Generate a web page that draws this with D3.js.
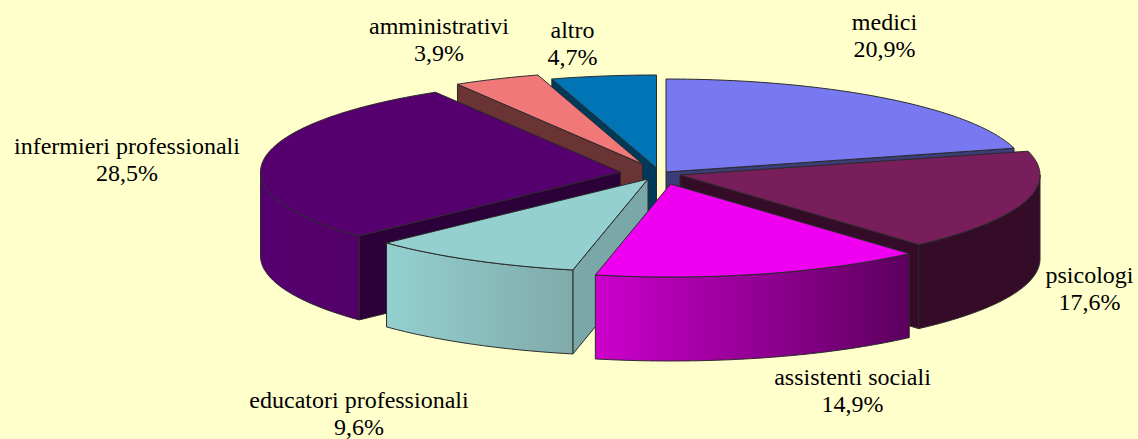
<!DOCTYPE html>
<html>
<head>
<meta charset="utf-8">
<script src="https://cdn.jsdelivr.net/npm/d3@7"></script>
<style>
  html, body { margin: 0; padding: 0; background: #ffffcc; }
  svg { display: block; }
  text { font-family: "Liberation Serif", serif; font-size: 24px; fill: #000; }
</style>
</head>
<body>
<div id="chart"></div>
<script>
// data, clockwise from 12 o'clock
var categories = ['medici', 'psicologi', 'assistenti sociali', 'educatori professionali', 'infermieri professionali', 'amministrativi', 'altro'];
var values = [20.9, 17.6, 14.9, 9.6, 28.5, 3.9, 4.7];

// colours for each wedge
var topColors = ['#7878f0', '#781e5a', '#f000f0', '#94d0d0', '#560070', '#f07878', '#0074b4'];
var sideColors = ['#3c3c78', '#340c28', '#78007a', '#7aa8a8', '#2c0038', '#6a3434', '#003a5a'];
var wallFrom = ['#7878f0', '#340c28', '#cc00cc', '#94d0d0', '#560070', '#f07878', '#0074b4'];
var wallTo = ['#3c3c78', '#340c28', '#5c005e', '#80aaaa', '#520068', '#6a3434', '#003a5a'];

// how far each wedge is pulled out of the centre, in pixels
var pullX = [14, 28, 18.5, -4, -31.5, -9.5, 4.5];
var pullY = [0, 3, 12, 7, 0, -8, -4];

// back to front
var drawOrder = [6, 5, 0, 4, 1, 3, 2];

// label centres, first line baseline
var labelX = [884.5, 1089.5, 852.5, 359, 127, 439, 572.5];
var labelY = [30, 283, 385, 408, 154, 34, 38];

var width = 1138, height = 439;
var cx = 652, cy = 172, rx = 360, ry = 93, depth = 84;

var ex = d3.scaleLinear().domain([-1, 1]).range([-rx, rx]);
var ey = d3.scaleLinear().domain([-1, 1]).range([-ry, ry]);
var pct = d3.formatLocale({ decimal: ',', thousands: '.', grouping: [3], currency: ['', ''] }).format('.1f');

// the printed percentages add up to 100,1 so let the last wedge stop at the top
var total = d3.sum(values);
var pie = d3.pie().sort(null).endAngle(2 * Math.PI * total / 100).value(function(d) { return d.value; });
var slices = pie(values.map(function(v, i) { return { value: v, i: i }; }));

var line = d3.line();

function rim(a, ox, oy) {
  return [ox + ex(Math.sin(a)), oy - ey(Math.cos(a))];
}

function arcPoints(a0, a1, ox, oy) {
  var n = Math.max(2, Math.ceil(Math.abs(a1 - a0) / 0.01));
  return d3.range(n + 1).map(function(k) {
    return rim(a0 + (a1 - a0) * k / n, ox, oy);
  });
}

var svg = d3.select('#chart').append('svg')
  .attr('width', width)
  .attr('height', height);

svg.append('rect')
  .attr('width', width)
  .attr('height', height)
  .attr('fill', '#ffffcc');

var defs = svg.append('defs');
values.forEach(function(v, i) {
  var g = defs.append('linearGradient').attr('id', 'wall' + i);
  g.append('stop').attr('offset', '0%').attr('stop-color', wallFrom[i]);
  g.append('stop').attr('offset', '100%').attr('stop-color', wallTo[i]);
});

var wedges = svg.selectAll('g.wedge')
  .data(drawOrder.map(function(i) { return slices[i]; }))
  .enter().append('g')
    .attr('class', 'wedge')
    .attr('stroke', '#2a2a2a')
    .attr('stroke-width', 1)
    .attr('stroke-linejoin', 'round');

wedges.each(function(d) {
  var g = d3.select(this);
  var i = d.data.i;
  var ox = cx + pullX[i], oy = cy + pullY[i];
  var apex = [ox, oy];
  var a0 = d.startAngle, a1 = Math.min(d.endAngle, 2 * Math.PI);

  // radial walls, only where they face the viewer
  [a0, a1].forEach(function(a, k) {
    var faces = k === 0 ? Math.sin(a) < -1e-6 : Math.sin(a) > 1e-6;
    if (!faces) return;
    var p = rim(a, ox, oy);
    g.append('path')
      .attr('d', line([apex, p, [p[0], p[1] + depth], [ox, oy + depth]]) + 'Z')
      .attr('fill', sideColors[i]);
  });

  // outer wall, the front half of the ellipse only
  var w0 = Math.max(a0, Math.PI / 2), w1 = Math.min(a1, Math.PI * 1.5);
  if (w1 > w0) {
    var upper = arcPoints(w0, w1, ox, oy);
    var lower = arcPoints(w1, w0, ox, oy + depth);
    g.append('path')
      .attr('d', line(upper.concat(lower)) + 'Z')
      .attr('fill', 'url(#wall' + i + ')');
  }

  // top face
  g.append('path')
    .attr('d', line([apex].concat(arcPoints(a0, a1, ox, oy))) + 'Z')
    .attr('fill', topColors[i]);
});

var labels = svg.selectAll('text.label')
  .data(categories)
  .enter().append('text')
    .attr('class', 'label')
    .attr('text-anchor', 'middle')
    .attr('x', function(d, i) { return labelX[i]; })
    .attr('y', function(d, i) { return labelY[i]; });

labels.append('tspan')
  .attr('x', function(d, i) { return labelX[i]; })
  .text(function(d) { return d; });

labels.append('tspan')
  .attr('x', function(d, i) { return labelX[i]; })
  .attr('dy', 27)
  .text(function(d, i) { return pct(values[i]) + '%'; });
</script>
</body>
</html>
